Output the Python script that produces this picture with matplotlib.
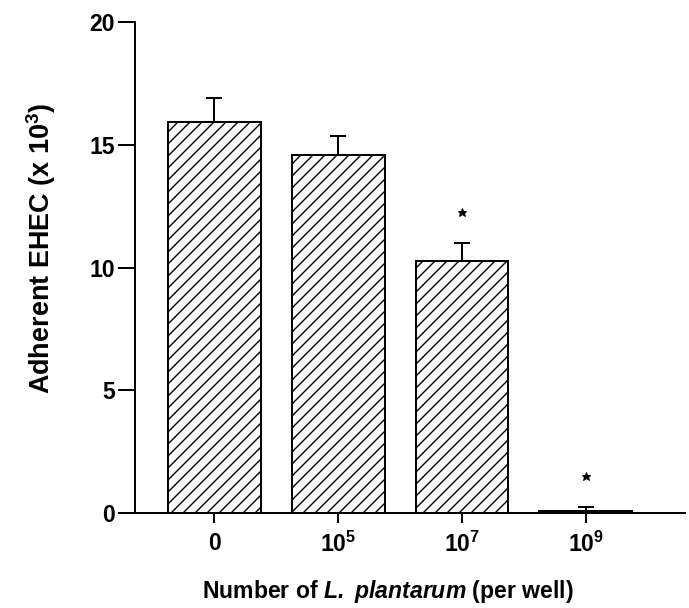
import matplotlib
matplotlib.use('Agg')
import matplotlib.pyplot as plt

# Data
groups = ['0', r'$\mathbf{10^5}$', r'$\mathbf{10^7}$', r'$\mathbf{10^9}$']
means = [15.95, 14.6, 10.28, 0.08]
errors = [0.97, 0.78, 0.75, 0.17]
significant = [False, False, True, True]

# Style settings
plt.rcParams['font.family'] = ['Liberation Sans', 'DejaVu Sans']
plt.rcParams['font.weight'] = 'bold'
plt.rcParams['mathtext.fontset'] = 'custom'
plt.rcParams['mathtext.rm'] = 'Liberation Sans:bold'
plt.rcParams['mathtext.bf'] = 'Liberation Sans:bold'
plt.rcParams['mathtext.it'] = 'Liberation Sans:italic:bold'
plt.rcParams['mathtext.bfit'] = 'Liberation Sans:italic:bold'
plt.rcParams['hatch.linewidth'] = 1.4

fig = plt.figure(figsize=(689 / 72, 608 / 72), dpi=72)
ax = fig.add_axes([0.196, 0.156, 0.798, 0.807])

x = list(range(len(means)))
ax.bar(x, means, width=0.75, color='white', edgecolor='black',
       linewidth=2, hatch='//', zorder=2)
ax.errorbar(x, means, yerr=[[0] * len(errors), errors], fmt='none',
            ecolor='black', elinewidth=2, capsize=8, capthick=2, zorder=3)

# Significance stars above the error bars
for xi, m, e, sig in zip(x, means, errors, significant):
    if sig:
        ax.plot(xi, m + e + 1.25, marker='*', color='black',
                markersize=9, zorder=4)

ax.set_xlim(-0.64, 3.8)
ax.set_ylim(0, 20)
ax.set_yticks([0, 5, 10, 15, 20])
ax.set_xticks(x)
ax.set_xticklabels(groups)

for side in ['top', 'right']:
    ax.spines[side].set_visible(False)
for side in ['left', 'bottom']:
    ax.spines[side].set_linewidth(2)

ax.tick_params(axis='y', length=17, width=2, labelsize=23, pad=3)
ax.tick_params(axis='x', length=10, width=2, labelsize=23, pad=9)

ax.set_ylabel(r'Adherent EHEC (x 10$^\mathbf{3}$)', fontsize=27,
              fontweight='bold')
ax.yaxis.set_label_coords(-0.14, 0.54)
ax.set_xlabel(r'Number of $\mathbfit{L.}$ $\mathbfit{plantarum}$ (per well)',
              fontsize=23, fontweight='bold')
ax.xaxis.set_label_coords(0.46, -0.132)

fig.savefig('out.png', dpi=72)
